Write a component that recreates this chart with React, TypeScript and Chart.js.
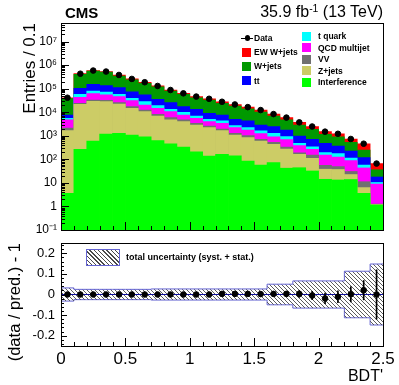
import React, { useEffect, useRef } from 'react';
import { Chart, registerables } from 'chart.js';
Chart.register(...registerables);

const FONT = '"Liberation Sans", Arial, Helvetica, sans-serif';

// ---- bins (BDT') ----
const binEdges = [0, 0.1, 0.2, 0.3, 0.4, 0.5, 0.6, 0.7, 0.8, 0.9, 1.0, 1.1, 1.2, 1.3, 1.4, 1.5, 1.6, 1.7, 1.8, 1.9, 2.0, 2.1, 2.2, 2.3, 2.4, 2.5];
const binCenters = [0.05, 0.15, 0.25, 0.35, 0.45, 0.55, 0.65, 0.75, 0.85, 0.95, 1.05, 1.15, 1.25, 1.35, 1.45, 1.55, 1.65, 1.75, 1.85, 1.95, 2.05, 2.15, 2.25, 2.35, 2.45];

// ---- stacked histogram: cumulative stack tops (entries / 0.1), bottom layer first ----
const cumInterference = [3.6, 266, 600, 1190, 1280, 1080, 910, 620, 450, 330, 210, 138, 163, 142, 85, 57, 72, 42, 44, 32, 14.2, 13.3, 13.9, 3.6, 1.15];
const cumZjets = [1650, 21600, 29000, 28000, 22300, 14600, 10500, 6900, 4700, 3960, 2870, 2200, 1650, 1080, 830, 600, 433, 274, 163, 110, 38, 37, 22.6, 6.3, 1.2];
const cumVV = [2100, 23900, 33000, 32000, 25300, 17100, 12400, 8200, 5850, 4700, 3400, 2600, 1940, 1280, 1010, 706, 527, 330, 190, 152, 55.5, 49, 30.5, 11.2, 1.26];
const cumQCD = [4700, 43000, 61000, 55000, 45500, 30800, 20200, 14600, 10500, 7600, 5500, 3960, 3400, 2200, 1760, 1230, 910, 690, 380, 266, 152, 125, 88, 43, 8.9];
const cumTquark = [5500, 57500, 79000, 72000, 57500, 39000, 28000, 18900, 13300, 9900, 6900, 5000, 4250, 2680, 2200, 1600, 1280, 930, 478, 342, 194, 176, 114, 57.5, 10.4];
const cumTT = [7600, 104000, 154000, 134000, 110000, 74000, 54000, 35000, 25300, 17100, 13300, 9000, 7600, 5000, 4250, 2870, 2430, 1760, 975, 706, 478, 367, 225, 119, 17.8];
const cumWjets = [38000, 400000, 550000, 500000, 340000, 234000, 169000, 118000, 79000, 57500, 41000, 33000, 24000, 18300, 13900, 10100, 6900, 4700, 2870, 1890, 1140, 910, 520, 248, 36];
const cumEWWjets = [41000, 430000, 585000, 530000, 380000, 258000, 187000, 130000, 87500, 63000, 46000, 37000, 27600, 21200, 16300, 12200, 8300, 5850, 3670, 2480, 1520, 1220, 730, 450, 66];
const dataValues = [41000, 430000, 585000, 530000, 380000, 258000, 187000, 130000, 87500, 63000, 46000, 37000, 27700, 21300, 16400, 12300, 8300, 5900, 3700, 2470, 1490, 1210, 730, 460, 66];

// ---- ratio panel ----
const ratioValues = [0, 0, 0, 0, 0, 0, 0, 0, 0, 0, 0, 0, 0.003, 0.003, 0.003, 0.002, 0.003, 0.003, 0.003, -0.005, -0.019, -0.011, 0.001, 0.021, 0];
const ratioErrors = [0.005, 0.002, 0.002, 0.002, 0.002, 0.002, 0.003, 0.003, 0.004, 0.004, 0.005, 0.006, 0.006, 0.007, 0.008, 0.009, 0.011, 0.013, 0.017, 0.02, 0.026, 0.029, 0.037, 0.047, 0.12];
const bandHalfWidth = [0.032, 0.025, 0.025, 0.025, 0.025, 0.025, 0.025, 0.027, 0.027, 0.027, 0.027, 0.027, 0.027, 0.027, 0.027, 0.027, 0.05, 0.05, 0.066, 0.066, 0.066, 0.066, 0.113, 0.113, 0.148];

// ---- tick labels ----
const topYTickValues = [0.1, 1, 10, 100, 1e3, 1e4, 1e5, 1e6, 1e7];
const topYTickLabels = ['10⁻¹', '1', '10', '10²', '10³', '10⁴', '10⁵', '10⁶', '10⁷'];
const xTickValues = [0, 0.5, 1, 1.5, 2, 2.5];
const xTickLabels = ['0', '0.5', '1', '1.5', '2', '2.5'];
const ratioTickValues = [-0.2, -0.1, 0, 0.1, 0.2];
const ratioTickLabels = ['-0.2', '-0.1', '0', '0.1', '0.2'];

const layers = [
  { label: 'Interference', data: cumInterference, color: '#00ff00' },
  { label: 'Z+jets', data: cumZjets, color: '#cccc66' },
  { label: 'VV', data: cumVV, color: '#707070' },
  { label: 'QCD multijet', data: cumQCD, color: '#ff00ff' },
  { label: 't quark', data: cumTquark, color: '#00ffff' },
  { label: 'tt', data: cumTT, color: '#0000ff' },
  { label: 'W+jets', data: cumWjets, color: '#009900' },
  { label: 'EW W+jets', data: cumEWWjets, color: '#ff0000' },
];

type Tk = { v: number; major: boolean };
function linTicks(lo: number, hi: number, step: number, every: number): Tk[] {
  const out: Tk[] = [];
  const n0 = Math.ceil(lo / step - 1e-9), n1 = Math.floor(hi / step + 1e-9);
  for (let i = n0; i <= n1; i++) out.push({ v: i * step, major: i % every === 0 });
  return out;
}
function logTicks(lo: number, hi: number): Tk[] {
  const out: Tk[] = [];
  for (let e = -1; e <= 8; e++) for (let k = 1; k <= 9; k++) {
    const v = k * Math.pow(10, e);
    if (v >= lo && v <= hi) out.push({ v, major: k === 1 });
  }
  return out;
}

function framePlugin(cfg: { x: Tk[]; y: Tk[]; xMaj: number; xMin: number; yMaj: number; yMin: number }) {
  return {
    id: 'rootFrame',
    afterDatasetsDraw(chart: any) {
      const { ctx, chartArea: a, scales } = chart;
      ctx.save();
      ctx.strokeStyle = '#000';
      ctx.lineWidth = 1;
      ctx.beginPath();
      for (const t of cfg.x) {
        const px = Math.round(scales.x.getPixelForValue(t.v)) + 0.5;
        ctx.moveTo(px, a.bottom);
        ctx.lineTo(px, a.bottom - (t.major ? cfg.xMaj : cfg.xMin));
      }
      for (const t of cfg.y) {
        const py = Math.round(scales.y.getPixelForValue(t.v)) + 0.5;
        ctx.moveTo(a.left, py);
        ctx.lineTo(a.left + (t.major ? cfg.yMaj : cfg.yMin), py);
      }
      ctx.stroke();
      ctx.strokeRect(Math.round(a.left) + 0.5, Math.round(a.top) + 0.5, Math.round(a.right - a.left), Math.round(a.bottom - a.top));
      ctx.restore();
    },
  };
}

function makeHatch(): CanvasPattern | string {
  const c = document.createElement('canvas');
  c.width = 4; c.height = 4;
  const g = c.getContext('2d');
  if (!g) return 'rgba(80,80,80,0.4)';
  g.strokeStyle = '#4a4a4a';
  g.lineWidth = 0.9;
  g.beginPath();
  for (let k = -4; k <= 4; k += 4) { g.moveTo(k, 0); g.lineTo(k + 4, 4); }
  g.stroke();
  return g.createPattern(c, 'repeat') || 'rgba(80,80,80,0.4)';
}

export default function App() {
  const topRef = useRef<HTMLCanvasElement>(null);
  const ratioRef = useRef<HTMLCanvasElement>(null);

  useEffect(() => {
    Chart.defaults.font.family = FONT;
    Chart.defaults.color = '#000';
    const topChart = new Chart(topRef.current as HTMLCanvasElement, {
      type: 'bar',
      data: {
        datasets: [
          {
            type: 'line', label: 'Data',
            data: binCenters.map((x, i) => ({ x, y: dataValues[i] })),
            showLine: false, pointRadius: 2.8, pointBackgroundColor: '#000', pointBorderColor: '#000', order: 0,
          } as any,
          ...layers.map((l, k) => ({
            type: 'bar', label: l.label,
            data: binCenters.map((x, i) => ({ x, y: l.data[i] })),
            backgroundColor: l.color, borderWidth: 0, barPercentage: 1, categoryPercentage: 1, grouped: false, order: k + 1,
          } as any)),
        ],
      },
      options: {
        animation: false, responsive: false, devicePixelRatio: 1,
        layout: { padding: { left: 0, right: 16, top: 23, bottom: 14 } },
        plugins: { legend: { display: false }, tooltip: { enabled: false } },
        scales: {
          x: { type: 'linear', min: 0, max: 2.5, offset: false, display: false },
          y: {
            type: 'logarithmic', min: 0.1, max: 6.1e7,
            afterBuildTicks: (s: any) => { s.ticks = topYTickValues.map((v) => ({ value: v })); },
            afterFit: (s: any) => { s.width = 61; },
            grid: { display: false, drawTicks: false }, border: { display: false },
            ticks: { callback: (_v: any, i: number) => topYTickLabels[i], padding: 4, font: { size: 12 }, color: '#000', autoSkip: false },
            title: { display: true, text: 'Entries / 0.1', align: 'end', font: { size: 17 }, color: '#000', padding: { top: 20, bottom: 0 } },
          },
        },
      } as any,
      plugins: [framePlugin({ x: linTicks(0, 2.5, 0.1, 5), y: logTicks(0.1, 6.1e7), xMaj: 8, xMin: 4, yMaj: 8, yMin: 4 })],
    });

    const hatch = makeHatch();
    const ratioChart = new Chart(ratioRef.current as HTMLCanvasElement, {
      type: 'line',
      data: {
        datasets: [
          {
            type: 'line', label: 'data / pred. - 1',
            data: binCenters.map((x, i) => ({ x, y: ratioValues[i] })),
            showLine: false, pointRadius: 2.8, pointBackgroundColor: '#000', pointBorderColor: '#000', order: 0,
          } as any,
          {
            type: 'bar', label: 'stat. error',
            data: binCenters.map((x, i) => ({ x, y: [ratioValues[i] - ratioErrors[i], ratioValues[i] + ratioErrors[i]] })),
            backgroundColor: '#000', barThickness: 1, borderWidth: 0, order: 1,
          } as any,
          {
            type: 'line', label: 'zero',
            data: [{ x: binEdges[0], y: 0 }, { x: binEdges[binEdges.length - 1], y: 0 }],
            borderColor: '#1010a0', borderWidth: 1, pointRadius: 0, fill: false, order: 2,
          } as any,
          {
            type: 'line', label: 'total uncertainty (syst. + stat.)',
            data: binEdges.map((x, i) => ({ x, y: bandHalfWidth[Math.min(i, bandHalfWidth.length - 1)] })),
            stepped: 'before', borderColor: '#6464d2', borderWidth: 1, pointRadius: 0, fill: '+1', backgroundColor: hatch, order: 3,
          } as any,
          {
            type: 'line', label: 'band low',
            data: binEdges.map((x, i) => ({ x, y: -bandHalfWidth[Math.min(i, bandHalfWidth.length - 1)] })),
            stepped: 'before', borderColor: '#6464d2', borderWidth: 1, pointRadius: 0, fill: false, order: 4,
          } as any,
        ],
      },
      options: {
        animation: false, responsive: false, devicePixelRatio: 1,
        layout: { padding: { left: 0, right: 16, top: 16, bottom: 0 } },
        plugins: { legend: { display: false }, tooltip: { enabled: false } },
        scales: {
          x: {
            type: 'linear', min: 0, max: 2.5, offset: false,
            afterBuildTicks: (s: any) => { s.ticks = xTickValues.map((v) => ({ value: v })); },
            afterFit: (s: any) => { s.height = 39; },
            grid: { display: false, drawTicks: false }, border: { display: false },
            ticks: { callback: (_v: any, i: number) => xTickLabels[i], padding: 3, font: { size: 17 }, color: '#000', maxRotation: 0, autoSkip: false },
            title: { display: true, text: "BDT'", align: 'end', font: { size: 16, lineHeight: 1 }, color: '#000', padding: { top: 0, bottom: 0 } },
          },
          y: {
            type: 'linear', min: -0.25, max: 0.25,
            afterBuildTicks: (s: any) => { s.ticks = ratioTickValues.map((v) => ({ value: v })); },
            afterFit: (s: any) => { s.width = 61; },
            grid: { display: false, drawTicks: false }, border: { display: false },
            ticks: { callback: (_v: any, i: number) => ratioTickLabels[i], padding: 6, font: { size: 13 }, color: '#000', autoSkip: false },
            title: { display: true, text: '(data / pred.) - 1', align: 'end', font: { size: 16.5 }, color: '#000', padding: { top: 6, bottom: 0 } },
          },
        },
      } as any,
      plugins: [framePlugin({ x: linTicks(0, 2.5, 0.1, 5), y: linTicks(-0.24, 0.24, 0.02, 5), xMaj: 8, xMin: 4, yMaj: 6, yMin: 3 })],
    });

    return () => { topChart.destroy(); ratioChart.destroy(); };
  }, []);

  const leftLegend = [
    { label: 'Data', color: '' },
    { label: 'EW W+jets', color: '#ff0000' },
    { label: 'W+jets', color: '#009900' },
    { label: 'tt', color: '#0000ff' },
  ];
  const rightLegend = [
    { label: 't quark', color: '#00ffff' },
    { label: 'QCD multijet', color: '#ff00ff' },
    { label: 'VV', color: '#707070' },
    { label: 'Z+jets', color: '#cccc66' },
    { label: 'Interference', color: '#00ff00' },
  ];
  const legText: React.CSSProperties = { position: 'absolute', fontSize: '8.5px', fontWeight: 'bold', lineHeight: '10px', height: 10, whiteSpace: 'nowrap', color: '#000' };

  return (
    <div style={{ position: 'absolute', left: 0, top: 0, width: 399, height: 385, background: '#fff', fontFamily: FONT, overflow: 'hidden' }}>
      <canvas ref={topRef} width={399} height={244} style={{ position: 'absolute', left: 0, top: 0 }} />
      <canvas ref={ratioRef} width={399} height={158} style={{ position: 'absolute', left: 0, top: 227 }} />

      <div style={{ position: 'absolute', left: 65, top: 5, fontSize: 15, fontWeight: 'bold', lineHeight: 1, color: '#000' }}>CMS</div>
      <div style={{ position: 'absolute', right: 16, top: 3.5, fontSize: 16, lineHeight: 1, color: '#000', whiteSpace: 'nowrap' }}>
        35.9 fb<sup style={{ fontSize: '0.65em', verticalAlign: '0.5em', lineHeight: 0 }}>-1</sup> (13 TeV)
      </div>

      {leftLegend.map((e, i) => {
        const cy = 38 + i * 14.2;
        return (
          <React.Fragment key={e.label}>
            {e.color ? (
              <div style={{ position: 'absolute', left: 242, top: cy - 4.5, width: 8.5, height: 9, background: e.color }} />
            ) : (
              <>
                <div style={{ position: 'absolute', left: 241, top: cy - 0.5, width: 12, height: 1, background: '#000' }} />
                <div style={{ position: 'absolute', left: 244.5, top: cy - 3, width: 5.5, height: 5.5, borderRadius: '50%', background: '#000' }} />
              </>
            )}
            <div style={{ ...legText, left: 254, top: cy - 5 }}>{e.label}</div>
          </React.Fragment>
        );
      })}
      {rightLegend.map((e, i) => {
        const cy = 36 + i * 11.5;
        return (
          <React.Fragment key={e.label}>
            <div style={{ position: 'absolute', left: 302, top: cy - 4.5, width: 8.5, height: 9, background: e.color }} />
            <div style={{ ...legText, left: 318, top: cy - 5 }}>{e.label}</div>
          </React.Fragment>
        );
      })}

      <div style={{
        position: 'absolute', left: 86, top: 249, width: 32, height: 15, border: '1px solid #6464d2',
        background: 'repeating-linear-gradient(45deg, #4a4a4a 0px, #4a4a4a 1px, #ffffff 1px, #ffffff 3px)',
      }} />
      <div style={{ position: 'absolute', left: 126, top: 251.5, fontSize: 9, fontWeight: 'bold', lineHeight: '10px', whiteSpace: 'nowrap', color: '#000' }}>
        total uncertainty (syst. + stat.)
      </div>
    </div>
  );
}
